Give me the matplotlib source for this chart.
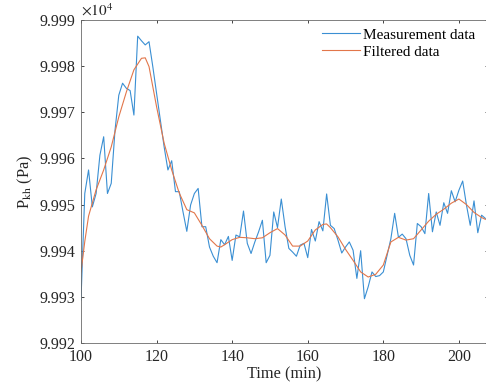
import matplotlib
matplotlib.use("Agg")
from matplotlib import pyplot as plt
from matplotlib.ticker import FuncFormatter
import numpy as np

# measured pressure, one sample per minute (Pa)
meas_time = np.arange(100, 208)
meas_pa = [
    99929.3, 99952.4, 99957.5, 99949.5, 99952.4, 99960.7, 99964.7, 99952.4,
    99954.6, 99966.1, 99973.7, 99976.3, 99975.2, 99974.7, 99969.4, 99986.5,
    99985.5, 99984.6, 99985.3, 99979.9, 99974.1, 99968.3, 99962.5, 99957.5,
    99959.5, 99952.8, 99952.8, 99948.4, 99944.2, 99949.9, 99952.4, 99953.5,
    99945.2, 99945.2, 99940.8, 99938.8, 99937.4, 99942.4, 99941.3, 99943.1,
    99937.9, 99943.4, 99943.0, 99948.6, 99941.6, 99939.4, 99941.9, 99944.1,
    99946.6, 99937.4, 99939.0, 99948.4, 99945.0, 99951.2, 99945.2, 99940.5,
    99939.7, 99938.8, 99941.2, 99941.6, 99938.5, 99944.6, 99942.1, 99946.3,
    99944.3, 99952.3, 99945.5, 99944.8, 99942.3, 99939.5, 99940.8, 99941.9,
    99940.1, 99934.0, 99940.0, 99929.6, 99932.2, 99935.4, 99934.4, 99934.6,
    99935.4, 99939.0, 99942.6, 99948.1, 99942.9, 99943.6, 99942.6, 99939.0,
    99936.9, 99945.9, 99945.2, 99943.7, 99952.4, 99944.1, 99948.4, 99945.5,
    99950.4, 99948.1, 99953.0, 99950.6, 99953.1, 99955.1, 99949.9, 99945.5,
    99950.8, 99943.9, 99947.7, 99947.0,
]

# filtered curve
filt_time = [100, 101, 102, 104, 106, 108, 110, 112, 114, 116, 117, 118, 120,
             122, 124, 126, 128, 130, 132, 134, 136, 137, 138, 140, 142, 144,
             146, 148, 150, 152, 154, 156, 158, 160, 162, 164, 165, 166, 168,
             170, 172, 174, 176, 178, 179, 180, 182, 184, 186, 188, 190, 192,
             194, 196, 198, 200, 202, 204, 206, 207]
filt_pa = [99935.4, 99942.0, 99947.5, 99953.2, 99957.5, 99962.5, 99969.0,
           99974.4, 99979.2, 99981.7, 99981.8, 99979.9, 99971.2, 99963.3,
           99957.5, 99952.5, 99948.9, 99948.2, 99945.5, 99942.6, 99941.0,
           99940.8, 99941.3, 99942.4, 99942.9, 99942.8, 99942.6, 99942.8,
           99943.9, 99944.8, 99943.4, 99941.0, 99941.0, 99942.1, 99944.5,
           99945.7, 99945.8, 99945.0, 99943.0, 99940.3, 99937.9, 99935.4,
           99934.3, 99934.9, 99935.9, 99936.9, 99941.9, 99942.9, 99942.3,
           99942.6, 99944.5, 99946.4, 99947.9, 99949.0, 99950.3, 99951.2,
           99950.0, 99948.3, 99947.2, 99946.8]

x_ticks = [100, 120, 140, 160, 180, 200]
y_ticks = [99920, 99930, 99940, 99950, 99960, 99970, 99980, 99990]

plt.rcParams['font.family'] = ['Liberation Serif', 'DejaVu Serif']
plt.rcParams['mathtext.fontset'] = 'stix'

fig = plt.figure(figsize=(4.86, 3.92), dpi=100)
ax = fig.add_axes([81/486, 49/392, 407/486, 323/392])

ax.plot(meas_time, meas_pa, color='#3a8fd3', lw=0.8, label='Measurement data')
ax.plot(filt_time, filt_pa, color='#e2764a', lw=0.8, label='Filtered data')

ax.set_xlim(100, 207.7)
ax.set_ylim(99920, 99990)
ax.set_xticks(x_ticks)
ax.set_yticks(y_ticks)
ax.yaxis.set_major_formatter(FuncFormatter(lambda v, p: f'{v/1e4:.3f}'))
ax.tick_params(direction='in', top=True, right=True, length=2.5, width=0.6,
               colors='#262626', labelsize=11.5, pad=4)
for s in ax.spines.values():
    s.set_color('#6a6a6a')
    s.set_linewidth(0.6)

ax.text(0, 1.004, r'$\times10^{4}$', transform=ax.transAxes, ha='left',
        va='bottom', fontsize=11, color='#262626')
ax.set_xlabel('Time (min)', fontsize=11.8, color='#262626', labelpad=1)
ax.set_ylabel(r'P$_{\mathrm{kh}}$ (Pa)', fontsize=11.8, color='#262626',
              labelpad=3)

ax.legend(loc='upper left', bbox_to_anchor=(0.592, 0.975), frameon=False,
          fontsize=11, handlelength=2.5, handletextpad=0.2, labelspacing=0.2,
          borderpad=0, borderaxespad=0)

fig.savefig('out.png', dpi=100)
